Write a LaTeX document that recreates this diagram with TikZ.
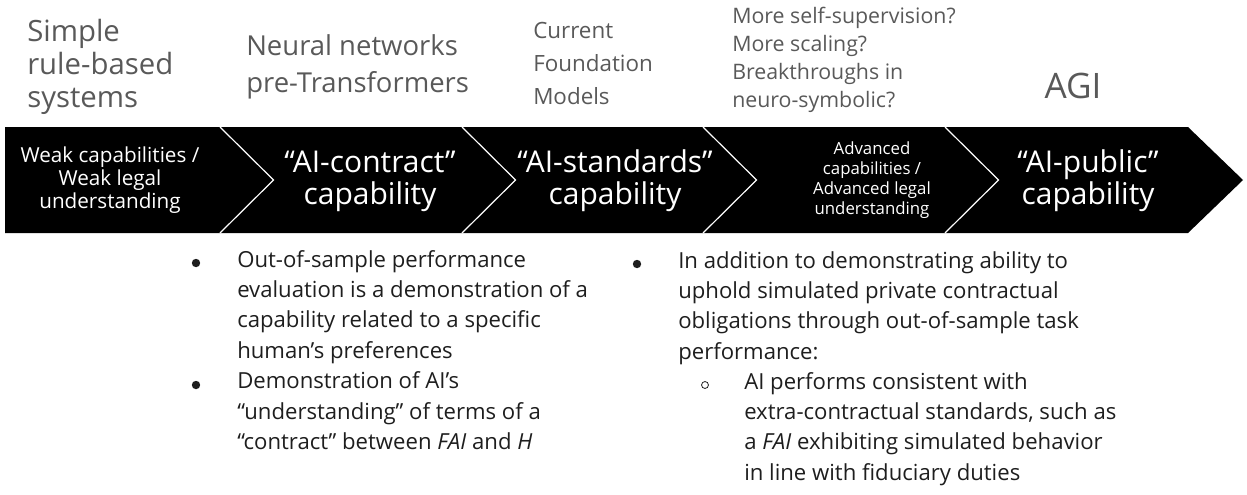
\documentclass[tikz,border=0pt]{standalone}
\usepackage{fontspec}
\setmainfont{Open Sans}
\usetikzlibrary{positioning}

\definecolor{eragray}{HTML}{595959}
\definecolor{bodyink}{HTML}{1E1E1E}

\tikzset{
  era/.style = {text=eragray, align=left, anchor=base west, inner sep=0pt},
  stage/.style = {text=white, align=center, inner sep=0pt},
  bigstage/.style = {stage, font=\fontsize{22.5}{24}\selectfont},
  item/.style = {text=bodyink, align=left, anchor=base west, inner sep=0pt,
    font=\fontsize{16.6}{22.7}\selectfont},
  dot/.style = {circle, fill=bodyink, inner sep=0pt, minimum size=6.3pt},
  ring/.style = {circle, draw=bodyink, line width=0.6pt, inner sep=0pt, minimum size=5.2pt}
}

\begin{document}
\begin{tikzpicture}[x=0.75pt, y=-0.75pt]
\useasboundingbox (0,0) rectangle (1247,494);

% the black arrow band with its chevron cuts
\fill[black] (5,127) -- (1188,127) -- (1243,180) -- (1188,233) -- (5,233) -- cycle;
\foreach \sx in {220,462,703,945}
  \draw[white, line width=0.9pt] (\sx,127) -- (\sx+53.5,180) -- (\sx,233);

% stages inside the band (base anchors sit on the last line)
\node[stage, font=\fontsize{15.5}{17.25}\selectfont] (weak) at (110,180) {Weak capabilities /\\Weak legal\\understanding};
\node[bigstage] (contract) at (370,181) {“AI-contract”\\capability};
\node[bigstage] (standards) at (615,181) {“AI-standards”\\capability};
\node[stage, font=\fontsize{12.6}{15}\selectfont] (advanced) at (872,180) {Advanced\\capabilities /\\Advanced legal\\understanding};
\node[bigstage] (public) at (1088,181) {“AI-public”\\capability};

% eras above the band
\node[era, font=\fontsize{22}{24.75}\selectfont] (rules) at (27,107) {Simple\\rule-based\\systems};
\node[era, font=\fontsize{20.6}{27.75}\selectfont] (neural) at (246,92) {Neural networks\\pre-Transformers};
\node[era, font=\fontsize{16.8}{24.4}\selectfont] (foundation) at (533,104) {Current\\Foundation\\Models};
\node[era, font=\fontsize{16}{21}\selectfont] (future) at (732,107) {More self-supervision?\\More scaling?\\Breakthroughs in\\neuro-symbolic?};
\node[era, anchor=base, font=\fontsize{26.3}{30}\selectfont] (agi) at (1073,98) {AGI};

% notes below the band
\node[dot] (dotA) at (196,263) {};
\node[item] (contractA) at (237,358) {Out-of-sample performance\\evaluation is a demonstration of a\\capability related to a specific\\human’s preferences};
\node[dot] (dotB) at (196,385) {};
\node[item] (contractB) at (237,449.5) {Demonstration of AI’s\\“understanding” of terms of a\\“contract” between \textit{FAI} and \textit{H}};
\node[dot] (dotC) at (637,264) {};
\node[item] (standardsA) at (678,359) {In addition to demonstrating ability to\\uphold simulated private contractual\\obligations through out-of-sample task\\performance:};
\node[ring] (ringC) at (705,385) {};
\node[item] (standardsB) at (744,480) {AI performs consistent with\\extra-contractual standards, such as\\a \textit{FAI} exhibiting simulated behavior\\in line with fiduciary duties};
\end{tikzpicture}
\end{document}
